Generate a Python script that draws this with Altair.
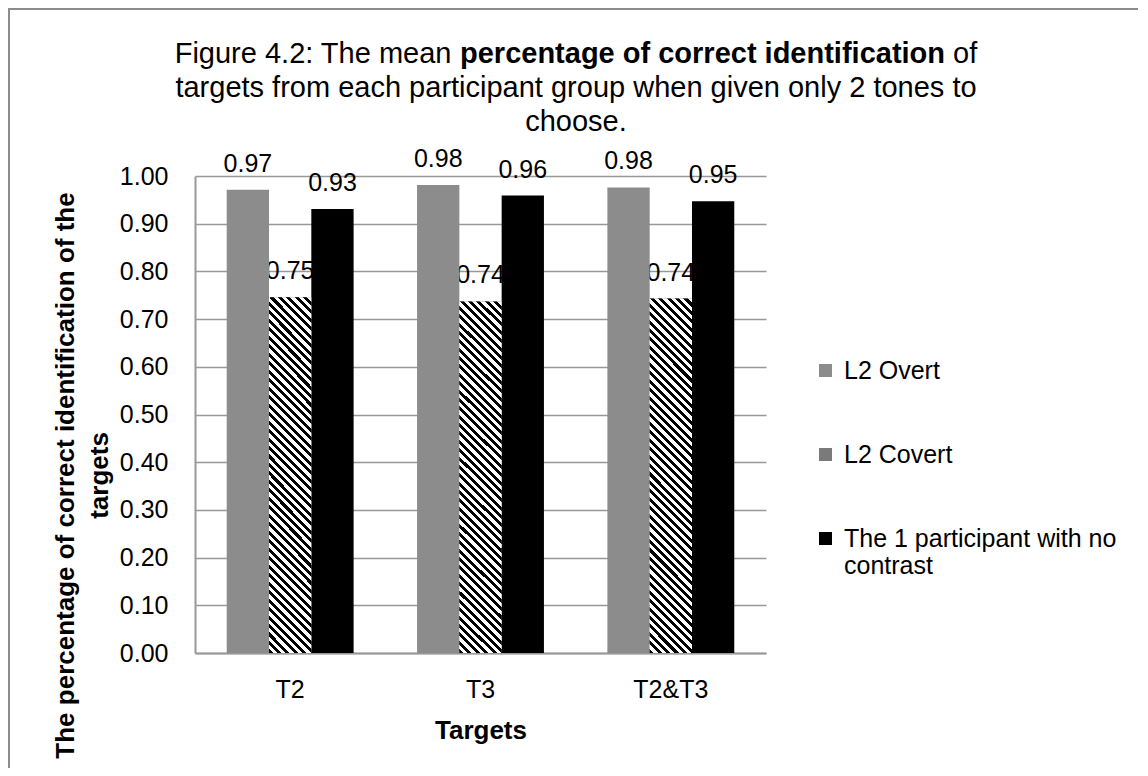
import altair as alt
import pandas as pd

# ---------------- data ----------------
targets = ["T2", "T3", "T2&T3"]
series = ["L2 Overt", "L2 Covert", "The 1 participant with no contrast"]
overt = [0.971, 0.981, 0.976]
covert = [0.746, 0.737, 0.743]
no_contrast = [0.931, 0.959, 0.947]
y_ticks = [0.0, 0.1, 0.2, 0.3, 0.4, 0.5, 0.6, 0.7, 0.8, 0.9, 1.0]
legend_split = ["The 1 participant with no", "contrast"]

title_line1 = ["Figure 4.2: The mean ", "percentage of correct identification", " of"]
title_line1_bold = [False, True, False]
title_rest = ["targets from each participant group when given only 2 tones to", "choose."]
y_title = ["The percentage of correct identification of the", "targets"]
x_title = "Targets"

FONT = "Liberation Sans"

rows = []
for i, t in enumerate(targets):
    for s, vals in zip(series, [overt, covert, no_contrast]):
        rows.append({"target": t, "series": s, "value": vals[i]})
df = pd.DataFrame(rows)

# ---------------- layout constants ----------------
W, H = 571, 477
PAD_L, PAD_T, PAD_R, PAD_B = 187, 168, 372, 115
TITLE_SIZE = 29
TITLE_CX = 381          # title centre relative to plot origin
TITLE_BASE = [-113, -79, -45]

# Helvetica/Arial advance widths (per 1000 em) for title line 1
REG = {" ": 278, ".": 278, ":": 278, "2": 556, "4": 556, "F": 611, "T": 611,
       "a": 556, "e": 556, "f": 278, "g": 556, "h": 556, "i": 222, "m": 833,
       "n": 556, "o": 556, "r": 333, "u": 556, "c": 500, "t": 278, "p": 556, "d": 556}
BOLD = {" ": 278, "a": 556, "c": 556, "d": 611, "e": 556, "f": 333, "g": 611,
        "i": 278, "n": 611, "o": 611, "p": 611, "r": 389, "t": 333}


def text_width(s, bold, size):
    tab = BOLD if bold else REG
    return sum(tab.get(ch, 556) for ch in s) * size / 1000.0


# ---------------- diagonal stripe gradient for L2 Covert ----------------
bar_w = W / 3 * (2 / 3) / 3
bar_h = 0.742 * H
period = 8.5
black_frac = 0.48
t = (bar_w + bar_h) / (bar_w ** 2 + bar_h ** 2)
n_stripes = int(round((bar_w + bar_h) / period))
stops = []
for k in range(n_stripes):
    a = k / n_stripes
    b = (k + black_frac) / n_stripes
    c = (k + 1) / n_stripes
    stops += [{"offset": a, "color": "#000000"}, {"offset": b, "color": "#000000"},
              {"offset": b, "color": "#ffffff"}, {"offset": c, "color": "#ffffff"}]
stripe_fill = {"gradient": "linear", "x1": 0, "y1": 1,
               "x2": t * bar_w, "y2": 1 - t * bar_h, "stops": stops}

# ---------------- encodings ----------------
x_enc = alt.X("target:N", sort=targets,
              scale=alt.Scale(paddingInner=1 / 3, paddingOuter=1 / 6),
              axis=alt.Axis(title=x_title, labelAngle=0, ticks=False, grid=False,
                            labelFont=FONT, labelFontSize=25, labelColor="black",
                            labelBaseline="alphabetic", labelPadding=44,
                            domainColor="#999999", domainWidth=2,
                            titleFont=FONT, titleFontSize=26, titleFontWeight="bold",
                            titleColor="black", titleBaseline="alphabetic", titleY=85))
xo_enc = alt.XOffset("series:N", sort=series, scale=alt.Scale(paddingInner=0, paddingOuter=0))
y_enc = alt.Y("value:Q", scale=alt.Scale(domain=[0, 1], nice=False),
              axis=alt.Axis(values=y_ticks, format=".2f", ticks=False,
                            grid=True, gridColor="#999999", gridWidth=1.6,
                            domainColor="#999999", domainWidth=2,
                            labelFont=FONT, labelFontSize=25, labelColor="black",
                            labelPadding=27,
                            title=y_title, titleFont=FONT, titleFontSize=26,
                            titleFontWeight="bold", titleColor="black",
                            titleAngle=270, titleAlign="center", titleBaseline="alphabetic",
                            titleLineHeight=34, titleX=-122, titleY=299))

label_expr = "datum.label == '%s' ? ['%s', '%s'] : datum.label" % (
    series[2], legend_split[0], legend_split[1])

color_enc = alt.Color("series:N", sort=series,
                      scale=alt.Scale(domain=series, range=["#8c8c8c", "#7a7a7a", "#000000"]),
                      legend=alt.Legend(title=None, orient="none", legendX=618, legendY=182,
                                        direction="vertical", symbolType="square",
                                        symbolSize=169, symbolStrokeWidth=0,
                                        labelFont=FONT, labelFontSize=25, labelColor="black",
                                        labelOffset=6, labelLimit=400, rowPadding=58,
                                        padding=0, labelExpr=label_expr))

# ---------------- layers ----------------
frame = alt.Chart(pd.DataFrame({"f": [0]})).mark_rect(
    filled=False, stroke="#8c8c8c", strokeWidth=2, clip=False
).encode(x=alt.value(-186), x2=alt.value(3000), y=alt.value(-167), y2=alt.value(3000))

title_layers = []
line1_total = sum(text_width(s, b, TITLE_SIZE) for s, b in zip(title_line1, title_line1_bold))
xpos = TITLE_CX - line1_total / 2
for seg, bold in zip(title_line1, title_line1_bold):
    seg_text = seg.strip()
    lead = text_width(seg[: len(seg) - len(seg.lstrip())], bold, TITLE_SIZE)
    title_layers.append(
        alt.Chart(pd.DataFrame({"t": [seg_text]})).mark_text(
            align="left", baseline="alphabetic", font=FONT, fontSize=TITLE_SIZE,
            fontWeight="bold" if bold else "normal", color="black", clip=False
        ).encode(text="t:N", x=alt.value(xpos + lead), y=alt.value(TITLE_BASE[0]))
    )
    xpos += text_width(seg, bold, TITLE_SIZE)
for line, base in zip(title_rest, TITLE_BASE[1:]):
    title_layers.append(
        alt.Chart(pd.DataFrame({"t": [line]})).mark_text(
            align="center", baseline="alphabetic", font=FONT, fontSize=TITLE_SIZE,
            color="black", clip=False
        ).encode(text="t:N", x=alt.value(TITLE_CX), y=alt.value(base))
    )

labels = alt.Chart(df).mark_text(
    baseline="alphabetic", dy=-18, font=FONT, fontSize=25, color="black"
).encode(x=x_enc, xOffset=xo_enc, y=y_enc, text=alt.Text("value:Q", format=".2f"))

bars = alt.Chart(df).mark_bar().encode(x=x_enc, xOffset=xo_enc, y=y_enc, color=color_enc)

covert_bars = alt.Chart(df).transform_filter(
    alt.datum.series == series[1]
).mark_bar(fill=stripe_fill).encode(x=x_enc, xOffset=xo_enc, y=y_enc)

chart = alt.layer(frame, *title_layers, labels, bars, covert_bars).properties(
    width=W, height=H,
    padding={"left": PAD_L, "top": PAD_T, "right": PAD_R, "bottom": PAD_B},
    autosize=alt.AutoSizeParams(type="none"),
    background="white",
).configure_view(stroke=None)

chart.save("out.html", embed_options={"renderer": "svg", "actions": False})
